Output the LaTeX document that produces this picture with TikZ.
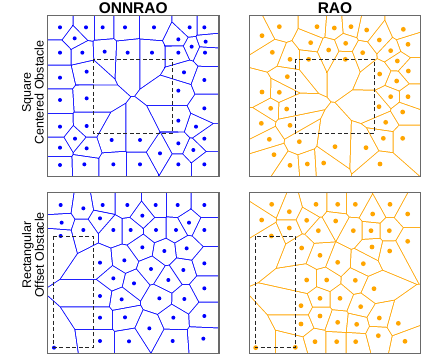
\documentclass[tikz,border=0pt]{standalone}
\usepackage{fontspec}
\setmainfont{Liberation Sans}
\definecolor{vblue}{RGB}{0,0,255}
\definecolor{vorange}{RGB}{255,165,0}
\definecolor{framegray}{RGB}{105,105,105}
\tikzset{
  panelframe/.style={draw=framegray, line width=1.3pt},
  obstacle/.style={draw=black!85, line width=0.9pt, dash pattern=on 4pt off 2.5pt},
  coltitle/.style={font=\fontsize{15.5}{18}\selectfont\bfseries, anchor=base},
  rowtitle/.style={rotate=90, align=center, font=\fontsize{12.5}{12.8}\selectfont}
}
% \OX,\OY: offset of the zoomed reading; \PXa,\PYa,\PXb,\PYb: panel frame
\newcommand\VorPanel[3]{%
  \begin{scope}
    \clip (\PXa,\PYa) rectangle (\PXb,\PYb);
    \fill[#1] (\PXa,\PYa) rectangle (\PXb,\PYb);
    \foreach \ax/\ay [count=\i] in #3 {
      \pgfmathsetmacro\Ax{\OX+\ax/3}
      \pgfmathsetmacro\Ay{354-\OY-\ay/3}
      \begin{scope}
        \foreach \bx/\by [count=\j] in #3 {
          \ifnum\i=\j\relax\else
            \pgfmathsetmacro\Bx{\OX+\bx/3}
            \pgfmathsetmacro\By{354-\OY-\by/3}
            \pgfmathsetmacro\Mx{(\Ax+\Bx)/2}
            \pgfmathsetmacro\My{(\Ay+\By)/2}
            \pgfmathsetmacro\Ang{atan2(\Ay-\By,\Ax-\Bx+0.003)}
            \clip[shift={(\Mx,\My)},rotate=\Ang] (0.5,-800) rectangle (800,800);
          \fi
        }
        \fill[white] (\PXa,\PYa) rectangle (\PXb,\PYb);
      \end{scope}
    }
  \end{scope}
  \foreach \ax/\ay in #3 {
    \fill[#1] ({\OX+\ax/3},{354-\OY-\ay/3}) circle (#2);
  }
  \draw[panelframe] (\PXa,\PYa) rectangle (\PXb,\PYb);
}
\def\ListA{60/82, 104/115, 138/82, 188/82, 255/82, 342/82, 449/82, 493/82,
  415/118, 455/140, 497/125, 60/158, 127/158, 194/155, 263/158, 336/158,
  415/158, 495/158, 140/215, 60/233, 432/217, 493/240, 140/295, 60/300,
  415/272, 493/325, 415/362, 140/378, 60/380, 468/380, 105/416, 493/416,
  215/420, 300/420, 415/430, 140/445, 60/443, 360/460, 460/450, 60/495,
  133/493, 220/493, 300/493, 415/493, 493/493}
\def\ListB{66/107, 118/80, 231/80, 283/84, 333/80, 380/90, 490/88, 97/157,
  212/128, 266/150, 317/130, 368/158, 418/120, 452/152, 504/133, 150/178,
  206/178, 316/178, 472/183, 419/222, 142/230, 470/243, 505/213, 66/276,
  118/277, 452/290, 504/290, 92/325, 140/327, 417/320, 488/336, 64/370,
  150/376, 437/367, 88/418, 178/425, 430/415, 488/415, 285/440, 378/443,
  102/464, 150/496, 202/492, 251/489, 420/492}
\def\ListC{62/75, 130/85, 188/75, 262/75, 347/75, 413/75, 493/75, 180/115,
  307/107, 447/128, 65/128, 130/150, 220/150, 272/150, 348/150, 408/150,
  493/150, 62/168, 307/202, 373/213, 440/205, 180/248, 253/241, 333/267,
  430/270, 493/250, 220/295, 282/310, 385/300, 493/325, 180/348, 245/358,
  358/355, 433/357, 180/413, 255/412, 400/413, 493/408, 328/445, 180/483,
  267/484, 398/483, 490/476, 42/503}
\def\ListD{95/73, 148/95, 228/73, 293/73, 346/73, 450/73, 503/102, 65/120,
  200/121, 287/123, 398/102, 148/144, 235/152, 340/152, 393/152, 448/152,
  94/168, 503/184, 185/204, 240/226, 396/201, 449/213, 293/247, 370/251,
  200/300, 260/300, 346/301, 402/326, 240/355, 300/355, 183/377, 362/380,
  240/408, 183/432, 293/427, 350/433, 418/414, 475/430, 225/485, 290/485,
  347/485, 415/467, 495/484, 47/503, 166/502}
\begin{document}
\begin{tikzpicture}[x=1pt,y=1pt]
  \useasboundingbox (0,0) rectangle (436,354);
  % top left: ONNRAO, square centered obstacle
  \def\OX{40}\def\OY{0}
  \def\PXa{47.3}\def\PYa{338.5}\def\PXb{219}\def\PYb{177.5}
  \VorPanel{vblue}{2pt}{\ListA}
  \coordinate (o1a) at (93.3,294.7);
  \coordinate (o1b) at (172.7,220.7);
  \draw[obstacle] (o1a) rectangle (o1b);
  % top right: RAO
  \def\OX{240}\def\OY{0}
  \def\PXa{249.5}\def\PYa{338.5}\def\PXb{420.5}\def\PYb{177.5}
  \VorPanel{vorange}{2.4pt}{\ListB}
  \coordinate (o2a) at (295,295);
  \coordinate (o2b) at (374.3,220.7);
  \draw[obstacle] (o2a) rectangle (o2b);
  % bottom left: ONNRAO, rectangular offset obstacle
  \def\OX{40}\def\OY{180}
  \def\PXa{47.3}\def\PYa{161.3}\def\PXb{219}\def\PYb{0.5}
  \VorPanel{vblue}{2pt}{\ListC}
  \coordinate (o3a) at (53.3,118);
  \coordinate (o3b) at (93.3,6.7);
  \draw[obstacle] (o3a) rectangle (o3b);
  % bottom right: RAO
  \def\OX{240}\def\OY{180}
  \def\PXa{249.5}\def\PYa{161.3}\def\PXb{420.5}\def\PYb{0.5}
  \VorPanel{vorange}{2.4pt}{\ListD}
  \coordinate (o4a) at (255.3,118);
  \coordinate (o4b) at (295.7,6.3);
  \draw[obstacle] (o4a) rectangle (o4b);
  % titles
  \node[coltitle] (t1) at (133.2,340.7) {ONNRAO};
  \node[coltitle] (t2) at (335,340.7) {RAO};
  \node[rowtitle] (r1) at (33,261.5) {Square\\Centered Obstacle};
  \node[rowtitle] (r2) at (33,99) {Rectangular\\Offset Obstacle};
\end{tikzpicture}
\end{document}
